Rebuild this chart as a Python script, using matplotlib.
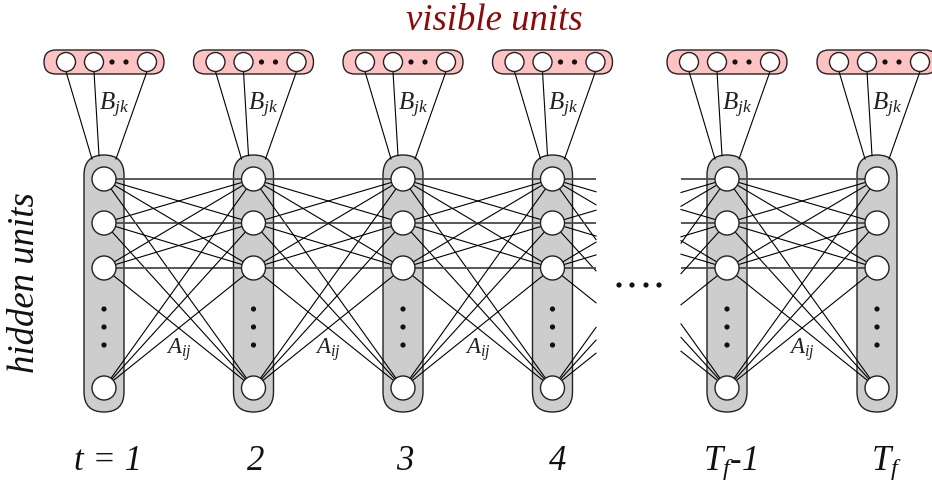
import matplotlib
matplotlib.use("Agg")
import matplotlib.pyplot as plt
from matplotlib.patches import FancyBboxPatch, Circle
import numpy as np

plt.rcParams['mathtext.fontset'] = 'custom'
plt.rcParams['mathtext.it'] = 'Liberation Serif:italic'
plt.rcParams['mathtext.rm'] = 'Liberation Serif:italic'

# ---- content ----
time_labels = ["t = 1", "2", "3", "4", r"$T_f$-1", r"$T_f$"]
title_text = "visible units"
side_text = "hidden units"
emission_label = r"$B_{jk}$"
transition_label = r"$A_{ij}$"
# transitions shown with A_ij label (between columns index i and i+1)
labelled_transitions = [0, 1, 2, 4]

# ---- layout ----
W, H = 932, 491
col_x = [104, 253.5, 403, 552.5, 727, 877]
label_x = [108, 256, 405, 558, 730, 886]
node_y = [179, 223, 268, 388]
dots_y = [309, 327, 345]
pill_top, pill_bot, pill_r = 155, 412, 20
node_r = 12
vis_y, vis_r = 62, 12
vis_circ_dx = [-38, -10, 43]
vis_dot_dx = [8, 22]
vis_circ_r = 9.5
vis_line_end_dx = [-12, -5, 12]
gap_left, gap_right = 596, 681
col_step = 150

fig = plt.figure(figsize=(W / 100, H / 100), dpi=100)
ax = fig.add_axes([0, 0, 1, 1])
ax.set_xlim(0, W)
ax.set_ylim(H, 0)
ax.axis('off')

EDGE = '#222222'

def seg(x1, y1, x2, y2, xmin=None, xmax=None, **kw):
    if xmax is not None and x2 > xmax:
        t = (xmax - x1) / (x2 - x1)
        x2, y2 = xmax, y1 + t * (y2 - y1)
    if xmin is not None and x1 < xmin:
        t = (xmin - x1) / (x2 - x1)
        x1, y1 = xmin, y1 + t * (y2 - y1)
    ax.plot([x1, x2], [y1, y2], **kw)

# hidden pills
for cx in col_x:
    ax.add_patch(FancyBboxPatch((cx - pill_r, pill_top), 2 * pill_r, pill_bot - pill_top,
                                boxstyle=f"round,pad=0,rounding_size={pill_r}",
                                fc='#cdcdcd', ec=EDGE, lw=1.0, zorder=1))
    for dy in dots_y:
        ax.add_patch(Circle((cx, dy), 2.6, fc='#111111', ec='none', zorder=3))

# transitions
pairs = [(col_x[0], col_x[1], None, None), (col_x[1], col_x[2], None, None),
         (col_x[2], col_x[3], None, None),
         (col_x[3], col_x[3] + col_step, None, gap_left),
         (col_x[4] - col_step, col_x[4], gap_right, None),
         (col_x[4], col_x[5], None, None)]
for xa, xb, xmin, xmax in pairs:
    for i, ya in enumerate(node_y):
        for j, yb in enumerate(node_y):
            if i == 3 and j == 3:
                continue
            if i == j:
                seg(xa, ya, xb, yb, xmin, xmax, color='#4a4a4a', lw=1.3, zorder=2,
                    solid_capstyle='butt')
            else:
                seg(xa, ya, xb, yb, xmin, xmax, color='black', lw=0.8, zorder=2)

# hidden nodes
for cx in col_x:
    for ny in node_y:
        ax.add_patch(Circle((cx, ny), node_r, fc='white', ec=EDGE, lw=1.0, zorder=4))

# visible pills and emission lines
for cx in col_x:
    ax.add_patch(FancyBboxPatch((cx - 60, vis_y - vis_r), 120, 2 * vis_r,
                                boxstyle=f"round,pad=0,rounding_size={vis_r}",
                                fc='#ffc2c2', ec=EDGE, lw=1.0, zorder=1))
    for dx in vis_circ_dx:
        ax.add_patch(Circle((cx + dx, vis_y), vis_circ_r, fc='white', ec=EDGE, lw=1.0, zorder=4))
    for dx in vis_dot_dx:
        ax.add_patch(Circle((cx + dx, vis_y), 2.6, fc='#111111', ec='none', zorder=4))
    for dx, ex in zip(vis_circ_dx, vis_line_end_dx):
        ey = pill_top + pill_r - np.sqrt(pill_r ** 2 - ex ** 2)
        ax.plot([cx + dx, cx + ex], [vis_y + vis_circ_r, ey], color='black', lw=0.8, zorder=2)
    ax.text(cx - 5, 110, emission_label, fontsize=18, ha='left', va='baseline',
            color='#222222', zorder=5)

# A_ij labels
for k in labelled_transitions:
    mx = (col_x[k] + col_x[k + 1]) / 2
    ax.text(mx, 354, transition_label, fontsize=16.5, ha='center', va='baseline',
            color='#222222', zorder=5)

# gap dots
for gx in [619, 632, 646, 659]:
    ax.add_patch(Circle((gx, 285), 2.6, fc='#111111', ec='none', zorder=3))

serif = dict(family='Liberation Serif', style='italic')
ax.text(494, 30, title_text, fontsize=26.5, ha='center', va='baseline', color='#8b0a0a', **serif)
ax.text(25, 283, side_text, fontsize=26.5, ha='center', va='center', rotation=90,
        color='#111111', **serif)
for lx, lab in zip(label_x, time_labels):
    ax.text(lx, 470, lab, fontsize=25, ha='center', va='baseline', color='#111111', **serif)

fig.savefig('out.png', dpi=100)
